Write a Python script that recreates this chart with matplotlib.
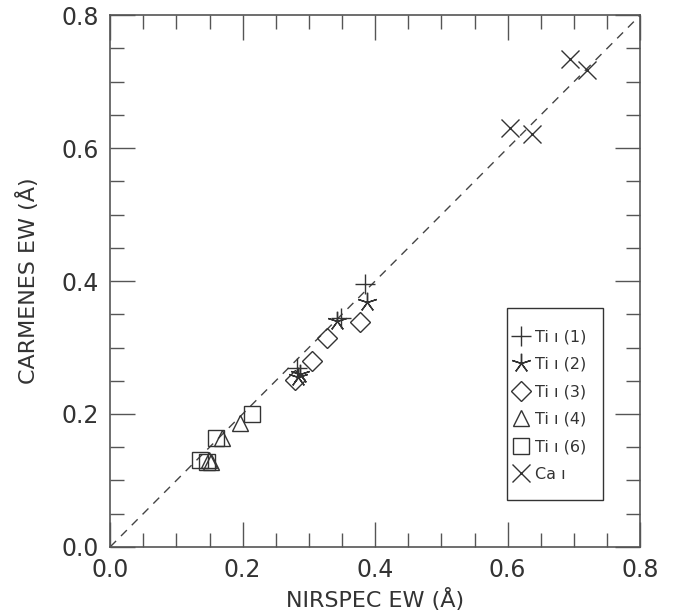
import numpy as np
import matplotlib.pyplot as plt
from matplotlib.patches import Rectangle
from matplotlib.ticker import MultipleLocator

# Equivalent widths (NIRSPEC, CARMENES).
ti1_x = [0.385, 0.348, 0.282]
ti1_y = [0.395, 0.345, 0.269]
ti2_x = [0.388, 0.342, 0.284, 0.286]
ti2_y = [0.368, 0.340, 0.256, 0.260]
ti3_x = [0.377, 0.327, 0.304, 0.279]
ti3_y = [0.339, 0.315, 0.280, 0.251]
ti4_x = [0.196, 0.169, 0.149, 0.152]
ti4_y = [0.186, 0.164, 0.131, 0.128]
ti6_x = [0.214, 0.160, 0.136, 0.146]
ti6_y = [0.200, 0.164, 0.130, 0.127]
ca1_x = [0.694, 0.720, 0.604, 0.637]
ca1_y = [0.734, 0.717, 0.630, 0.621]

plt.rcParams["font.family"] = "DejaVu Sans"
text_color = "#333333"

fig = plt.figure(figsize=(6.76, 6.11), dpi=100)
ax = fig.add_axes([0.163, 0.105, 0.784, 0.870])

ax.plot([0, 0.8], [0, 0.8], color="#444444", linestyle=(0, (6, 5)), linewidth=1)

mk = dict(linestyle="none", color="#333333", markerfacecolor="none",
          markeredgecolor="#333333", markeredgewidth=1.0)
ax.plot(ti1_x, ti1_y, marker="+", markersize=15, label="Ti ı (1)", **mk)
ax.plot(ti2_x, ti2_y, marker=(5, 2, 0), markersize=14, label="Ti ı (2)", **mk)
ax.plot(ti3_x, ti3_y, marker="D", markersize=10, label="Ti ı (3)", **mk)
ax.plot(ti4_x, ti4_y, marker="^", markersize=12, label="Ti ı (4)", **mk)
ax.plot(ti6_x, ti6_y, marker="s", markersize=12, label="Ti ı (6)", **mk)
ax.plot(ca1_x, ca1_y, marker="x", markersize=13, label="Ca ı", **mk)

ax.set_xlim(0, 0.8)
ax.set_ylim(0, 0.8)
ax.xaxis.set_major_locator(MultipleLocator(0.2))
ax.yaxis.set_major_locator(MultipleLocator(0.2))
ax.xaxis.set_minor_locator(MultipleLocator(0.05))
ax.yaxis.set_minor_locator(MultipleLocator(0.05))
ax.tick_params(which="both", direction="in", top=True, right=True,
               color="#555555", labelcolor=text_color, labelsize=17)
ax.tick_params(which="major", length=18, width=1, pad=8)
ax.tick_params(which="minor", length=10, width=1)
for s in ax.spines.values():
    s.set_color("#555555")
    s.set_linewidth(1.2)

ax.set_xlabel("NIRSPEC EW (Å)", fontsize=16, color=text_color, labelpad=4)
ax.set_ylabel("CARMENES EW (Å)", fontsize=16, color=text_color, labelpad=16)

# legend box drawn separately (it has more room above/below than legend pads give)
ax.add_patch(Rectangle((0.749, 0.088), 0.181, 0.361, transform=ax.transAxes,
                       fill=False, edgecolor="#333333", linewidth=1.0, zorder=4))
leg = ax.legend(loc="upper left", bbox_to_anchor=(0.759, 0.409), borderaxespad=0,
                fontsize=11.5, frameon=False, handletextpad=0.3,
                handlelength=1.1, labelspacing=0.78, borderpad=0)
for t in leg.get_texts():
    t.set_color(text_color)

plt.savefig("out.png", dpi=100)
